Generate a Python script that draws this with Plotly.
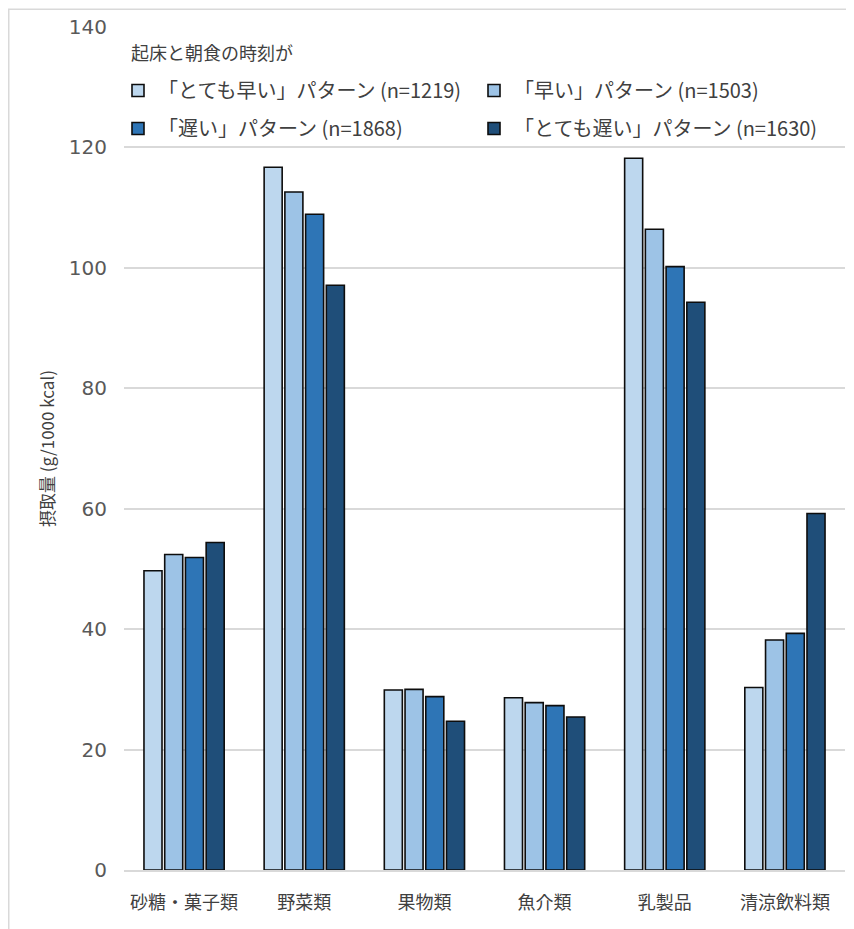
import plotly.graph_objects as go

categories = ["砂糖・菓子類", "野菜類", "果物類", "魚介類", "乳製品", "清涼飲料類"]
series_names = [
    "「とても早い」パターン (n=1219)",
    "「早い」パターン (n=1503)",
    "「遅い」パターン (n=1868)",
    "「とても遅い」パターン (n=1630)",
]
legend_title = "起床と朝食の時刻が"
very_early = [49.7, 116.7, 29.9, 28.6, 118.2, 30.3]
early = [52.4, 112.6, 30.0, 27.8, 106.4, 38.2]
late = [51.9, 108.9, 28.8, 27.3, 100.2, 39.3]
very_late = [54.4, 97.1, 24.7, 25.4, 94.3, 59.2]
y_ticks = [0, 20, 40, 60, 80, 100, 120, 140]

colors = ["#BDD7EE", "#9DC3E6", "#2E75B6", "#1F4E79"]
values = [very_early, early, late, very_late]
legend_ids = ["legend", "legend2", "legend3", "legend4"]

JP = "Noto Sans CJK JP"

fig = go.Figure()
for name, vals, c, lg in zip(series_names, values, colors, legend_ids):
    fig.add_trace(go.Bar(
        x=categories, y=vals, name=name, legend=lg,
        marker=dict(color=c, line=dict(color="#0D0D0D", width=1.6)),
    ))

# the page body adds an 8px offset, so the figure is 8px smaller than the window
W, H = 846, 921
ml, mr, mt, mb = 116, 9, 18.5, 59
pw = W - ml - mr
ph = H - mt - mb

def px_x(px):
    return (px - ml) / pw

def px_y(py):
    return (H - mb - py) / ph

leg_common = dict(
    orientation="h",
    xanchor="left",
    yanchor="middle",
    itemwidth=30,
    font=dict(family=JP, size=20, color="#404040"),
    bgcolor="rgba(0,0,0,0)",
)
col_x = [110, 466]
row_y = [82, 120]

fig.update_layout(
    width=W, height=H,
    margin=dict(l=ml, r=mr, t=mt, b=mb, autoexpand=False),
    plot_bgcolor="white", paper_bgcolor="white",
    barmode="group", bargap=0.31, bargroupgap=0.13,
    font=dict(family=JP, color="#404040"),
    showlegend=True,
    legend=dict(leg_common, x=px_x(col_x[0]), y=px_y(row_y[0])),
    legend2=dict(leg_common, x=px_x(col_x[1]), y=px_y(row_y[0])),
    legend3=dict(leg_common, x=px_x(col_x[0]), y=px_y(row_y[1])),
    legend4=dict(leg_common, x=px_x(col_x[1]), y=px_y(row_y[1])),
    xaxis=dict(
        range=[-0.5, 5.5], automargin=False,
        showline=True, linecolor="#D9D9D9", linewidth=1.5,
        ticks="", ticklabelstandoff=16,
        tickfont=dict(family=JP, size=18, color="#404040"),
        showgrid=False,
    ),
    yaxis=dict(
        range=[0, 140], tickvals=y_ticks, automargin=False,
        showgrid=True, gridcolor="#D9D9D9", gridwidth=1.5,
        zeroline=False, showline=False,
        ticks="", ticklabelstandoff=16,
        tickfont=dict(family="DejaVu Sans", size=20, color="#595959"),
        title=dict(text="摂取量 (g/1000 kcal)", standoff=9,
                   font=dict(family=JP, size=17, color="#404040")),
    ),
    annotations=[dict(
        text=legend_title, xref="paper", yref="paper",
        x=px_x(121), y=px_y(44), xanchor="left", yanchor="middle",
        showarrow=False, font=dict(family=JP, size=18, color="#404040"),
    )],
    shapes=[dict(
        type="rect", xref="paper", yref="paper",
        x0=px_x(0.75), x1=px_x(W + 20), y0=px_y(H + 20), y1=px_y(0.75),
        line=dict(color="#D9D9D9", width=1.5), fillcolor="rgba(0,0,0,0)",
        layer="below",
    )],
)

fig.write_html("out.html")
